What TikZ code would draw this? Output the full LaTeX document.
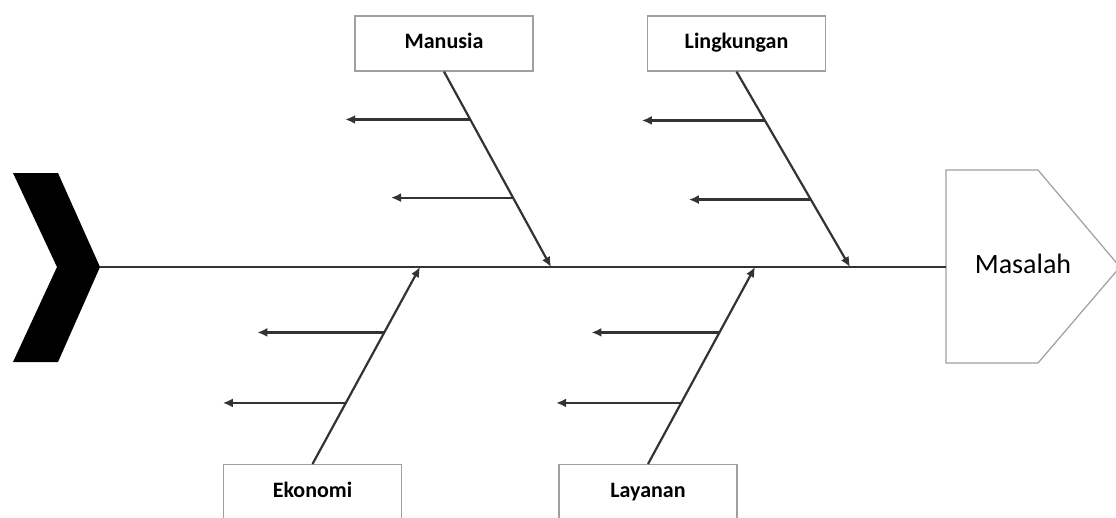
\documentclass[tikz,border=0pt]{standalone}
\usepackage{fontspec}
\setmainfont{Carlito}
\usetikzlibrary{arrows.meta,calc}
\tikzset{
  kotak/.style={draw=gray!75,line width=1.2pt,fill=white,minimum width=178,minimum height=55,inner sep=0pt,text height=14pt,text depth=4pt,font=\fontsize{22}{24}\selectfont\bfseries},
  tulang/.style={draw=black!80,line width=2.2pt},
  >={Latex[length=10,width=9]}
}
\begin{document}
\begin{tikzpicture}[x=1pt,y=-1pt]
		\useasboundingbox (0,0) rectangle (1116,517);
		% kepala dan ekor
		\fill[black] (13,173) -- (58,173) -- (100,267) -- (58,362) -- (13,362) -- (57,267) -- cycle;
		\draw[gray!75,line width=1.2pt,fill=white] (946,170) -- (1038,170) -- (1120,267) -- (1038,363) -- (946,363) -- cycle;
		\node (masalah) at (1023,264) {\fontsize{28}{30}\selectfont Masalah};
		\coordinate (ekor) at (100,267);
		\coordinate (kepala) at (946,267);
		\draw[tulang] (ekor) -- (kepala);
		
		\node[kotak] (manusia) at (444,43.5) {Manusia};
		\node[kotak] (lingkungan) at (736.5,43.5) {Lingkungan};
		\node[kotak,anchor=north] (ekonomi) at (312.5,464) {Ekonomi};
		\node[kotak,anchor=north] (layanan) at (648,464) {Layanan};
		
		\coordinate (m) at (551,267);
		\coordinate (l) at (850,267);
		\coordinate (e) at (420,267);
		\coordinate (y) at (755,267);
		
		\draw[tulang,->] (manusia.south) -- (m);
		\draw[tulang,->] (lingkungan.south) -- (l);
		\draw[tulang,->] (ekonomi.north) -- (e);
		\draw[tulang,->] (layanan.north) -- (y);
		
		\draw[tulang,->] ($(manusia.south)!0.245!(m)$) -- ++(-125,0);
		\draw[tulang,->] ($(manusia.south)!0.645!(m)$) -- ++(-122,0);
		\draw[tulang,->] ($(lingkungan.south)!0.25!(l)$) -- ++(-123,0);
		\draw[tulang,->] ($(lingkungan.south)!0.655!(l)$) -- ++(-122,0);
		\draw[tulang,->] ($(ekonomi.north)!0.668!(e)$) -- ++(-127,0);
		\draw[tulang,->] ($(ekonomi.north)!0.31!(e)$) -- ++(-123,0);
		\draw[tulang,->] ($(layanan.north)!0.668!(y)$) -- ++(-128,0);
		\draw[tulang,->] ($(layanan.north)!0.31!(y)$) -- ++(-125,0);
		\end{tikzpicture}
\end{document}
